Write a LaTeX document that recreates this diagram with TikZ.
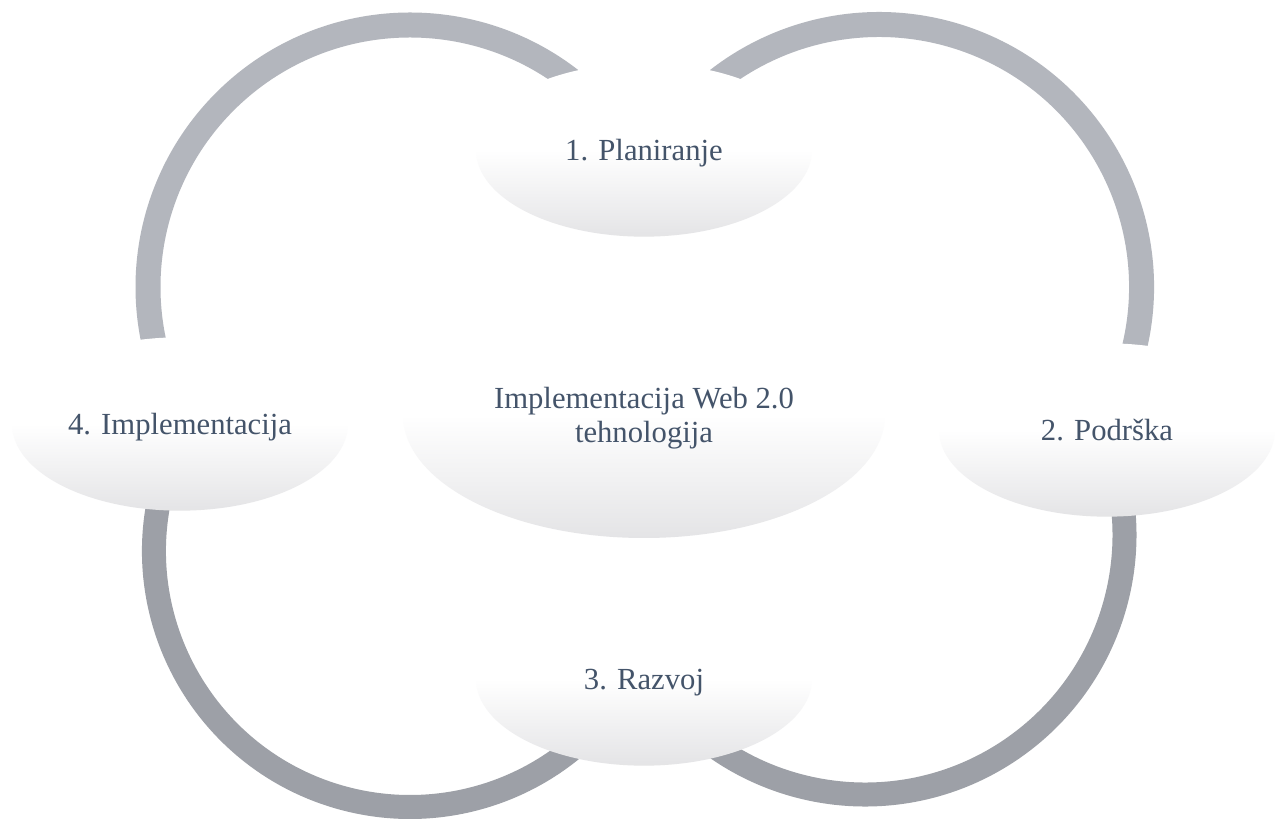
\documentclass[tikz,border=0pt]{standalone}
\usepackage{fontspec}
\setmainfont{Liberation Serif}
\usepackage{tikz}
\usetikzlibrary{shapes.geometric,positioning,calc}
\definecolor{ringup}{RGB}{179,182,189}
\definecolor{ringdown}{RGB}{157,160,167}
\definecolor{ellgray}{RGB}{228,228,230}
\definecolor{textblue}{RGB}{68,84,106}
\tikzstyle{phase} = [ellipse, minimum width=252pt, minimum height=130pt, inner sep=0pt,
top color=white, bottom color=ellgray, middle color=white, text=textblue,
font=\fontsize{23}{25.5}\selectfont, align=center, text depth=0pt]
\tikzstyle{hub} = [phase, minimum width=361.5pt, minimum height=184.5pt]
\tikzstyle{ringtop} = [line width=18.75pt, ringup]
\tikzstyle{ringbot} = [line width=18pt, ringdown]

\begin{document}
\begin{tikzpicture}[x=0.75pt, y=0.75pt]
  \path[use as bounding box, fill=white] (0,0) rectangle (1279,821);

  \coordinate (c41) at (410,534);
  \coordinate (c12) at (879,534);
  \coordinate (c34) at (410,270);
  \coordinate (c23) at (865,286);

  \draw[ringtop] ([shift={(45:262)}]c41) arc[start angle=45, end angle=200, radius=262];
  \draw[ringtop] ([shift={(-20:262.5)}]c12) arc[start angle=-20, end angle=135, radius=262.5];
  \draw[ringbot] ([shift={(165:256)}]c34) arc[start angle=165, end angle=325, radius=256];
  \draw[ringbot] ([shift={(215:259.5)}]c23) arc[start angle=215, end angle=375, radius=259.5];

  \node (web) [hub] at (644,406) {Implementacija Web 2.0\\tehnologija};
  \node (plan) [phase] at (644,671) {1. Planiranje};
  \node (support) [phase] at (1107,391) {2. Podrška};
  \node (develop) [phase] at (644,142) {3. Razvoj};
  \node (impl) [phase] at (180,397) {4. Implementacija};
\end{tikzpicture}
\end{document}
